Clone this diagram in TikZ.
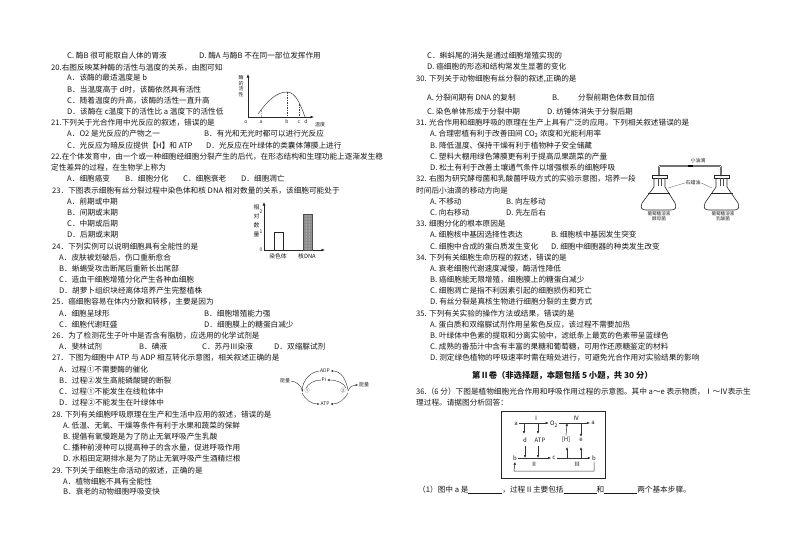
\documentclass[tikz,border=0pt]{standalone}
\usepackage{fontspec}
\setmainfont{Noto Sans CJK SC}
\usetikzlibrary{arrows.meta,patterns}
\newcommand{\TL}[3]{\node[txt] (t#1-#2) at (#1,#2) {#3};}
\newcommand{\SL}[3]{\node[lab] (#1) at #2 {#3};}
\tikzset{
  txt/.style={anchor=west,inner sep=0pt,font=\fontsize{7.65}{8}\selectfont,text height=6pt,text depth=1.6pt,text=black!90},
  lab/.style={inner sep=0.6pt,font=\fontsize{5}{5.5}\selectfont,text=black!85},
  dlab/.style={inner sep=1.2pt,font=\fontsize{6}{6.5}\selectfont,text=black!90},
  ax/.style={line width=0.7pt,black!85,-{Latex[length=3.5pt,width=3pt]}},
  thinarr/.style={line width=0.5pt,black!80,-{Latex[length=3pt,width=2.6pt]}},
  cyc/.style={line width=0.45pt,black!75},
  flask/.style={line width=0.6pt,black!85},
  dline/.style={line width=0.45pt,dashed,dash pattern=on 1.5pt off 1pt,black!75},
}
\begin{document}
\begin{tikzpicture}[x=1pt,y=-1pt]
\useasboundingbox[fill=white] (0,0) rectangle (794,549);
% left column
\TL{67}{56}{C. 酶B 很可能取自人体的胃液}
\TL{199}{56}{D. 酶A 与酶B 不在同一部位发挥作用}
\TL{51}{68}{20.右图反映某种酶的活性与温度的关系，由图可知}
\TL{67}{78}{A．该酶的最适温度是 b}
\TL{67}{90}{B．当温度高于 d时，该酶依然具有活性}
\TL{67}{101}{C．随着温度的升高，该酶的活性一直升高}
\TL{67}{112}{D．该酶在 c温度下的活性比 a 温度下的活性低}
\TL{51}{123}{21.下列关于光合作用中光反应的叙述，错误的是}
\TL{67}{134}{A．O2 是光反应的产物之一}
\TL{204}{134}{B．有光和无光时都可以进行光反应}
\TL{67}{146}{C．光反应为暗反应提供【H】和 ATP}
\TL{206}{146}{D．光反应在叶绿体的类囊体薄膜上进行}
\TL{51}{157}{22.在个体发育中，由一个或一种细胞经细胞分裂产生的后代，在形态结构和生理功能上逐渐发生稳}
\TL{51}{168}{定性差异的过程，在生物学上称为}
\TL{67}{179}{A．细胞癌变}
\TL{125}{179}{B．细胞分化}
\TL{183}{179}{C．细胞衰老}
\TL{241}{179}{D．细胞凋亡}
\TL{52}{191}{23．下图表示细胞有丝分裂过程中染色体和核 DNA 相对数量的关系，该细胞可能处于}
\TL{67}{202}{A．前期或中期}
\TL{67}{213}{B．间期或末期}
\TL{67}{224}{C．中期或后期}
\TL{67}{235}{D．后期或末期}
\TL{52}{247}{24．下列实例可以说明细胞具有全能性的是}
\TL{59}{258}{A．皮肤被划破后，伤口重新愈合}
\TL{59}{269}{B．蜥蜴受攻击断尾后重新长出尾部}
\TL{59}{280}{C．造血干细胞增殖分化产生各种血细胞}
\TL{59}{291}{D．胡萝卜组织块经离体培养产生完整植株}
\TL{52}{302}{25．癌细胞容易在体内分散和转移，主要是因为}
\TL{59}{314}{A．细胞呈球形}
\TL{204}{314}{B．细胞增殖能力强}
\TL{59}{325}{C．细胞代谢旺盛}
\TL{204}{325}{D．细胞膜上的糖蛋白减少}
\TL{52}{336}{26．为了检测花生子叶中是否含有脂肪，应选用的化学试剂是}
\TL{59}{347}{A．斐林试剂}
\TL{139}{347}{B．碘液}
\TL{202}{347}{C．苏丹Ⅲ染液}
\TL{274}{347}{D．双缩脲试剂}
\TL{52}{358}{27．下图为细胞中 ATP 与 ADP 相互转化示意图，相关叙述正确的是}
\TL{59}{370}{A．过程①不需要酶的催化}
\TL{59}{381}{B．过程②发生高能磷酸键的断裂}
\TL{59}{392}{C．过程①不能发生在线粒体中}
\TL{59}{403}{D．过程②不能发生在叶绿体中}
\TL{52}{415}{28. 下列有关细胞呼吸原理在生产和生活中应用的叙述，错误的是}
\TL{63}{426}{A. 低温、无氧、干燥等条件有利于水果和蔬菜的保鲜}
\TL{63}{437}{B. 提倡有氧慢跑是为了防止无氧呼吸产生乳酸}
\TL{63}{448}{C. 播种前浸种可以提高种子的含水量，促进呼吸作用}
\TL{63}{459}{D. 水稻田定期排水是为了防止无氧呼吸产生酒精烂根}
\TL{52}{471}{29. 下列关于细胞生命活动的叙述，正确的是}
\TL{63}{482}{A．植物细胞不具有全能性}
\TL{63}{492}{B．衰老的动物细胞呼吸变快}
% right column
\TL{427}{56}{C．蝌蚪尾的消失是通过细胞增殖实现的}
\TL{427}{67}{D. 癌细胞的形态和结构常发生显著的变化}
\TL{416}{79}{30. 下列关于动物细胞有丝分裂的叙述,正确的是}
\TL{427}{98}{A. 分裂间期有 DNA 的复制}
\TL{552}{98}{B.}
\TL{578}{98}{分裂前期色体数目加倍}
\TL{427}{112}{C. 染色单体形成于分裂中期}
\TL{547}{112}{D. 纺锤体消失于分裂后期}
\TL{416}{123}{31. 光合作用和细胞呼吸的原理在生产上具有广泛的应用。下列相关叙述错误的是}
\TL{430}{134}{A. 合理密植有利于改善田间 CO\textsubscript{2} 浓度和光能利用率}
\TL{430}{146}{B. 降低温度、保持干燥有利于植物种子安全储藏}
\TL{430}{157}{C. 塑料大棚用绿色薄膜更有利于提高瓜果蔬菜的产量}
\TL{430}{168}{D. 松土有利于改善土壤通气条件以增强根系的细胞呼吸}
\TL{416}{179}{32. 右图为研究酵母菌和乳酸菌呼吸方式的实验示意图，培养一段}
\TL{416}{191}{时间后小油滴的移动方向是}
\TL{430}{202}{A. 不移动}
\TL{506}{202}{B. 向左移动}
\TL{430}{213}{C. 向右移动}
\TL{506}{213}{D. 先左后右}
\TL{416}{224}{33. 细胞分化的根本原因是}
\TL{430}{235}{A. 细胞核中基因选择性表达}
\TL{551}{235}{B. 细胞核中基因发生突变}
\TL{430}{247}{C. 细胞中合成的蛋白质发生变化}
\TL{551}{247}{D. 细胞中细胞器的种类发生改变}
\TL{416}{258}{34. 下列有关细胞生命历程的叙述，错误的是}
\TL{430}{269}{A. 衰老细胞代谢速度减慢，酶活性降低}
\TL{430}{280}{B. 癌细胞能无限增殖，细胞膜上的糖蛋白减少}
\TL{430}{291}{C. 细胞凋亡是指不利因素引起的细胞损伤和死亡}
\TL{430}{302}{D. 有丝分裂是真核生物进行细胞分裂的主要方式}
\TL{416}{314}{35. 下列有关实验的操作方法或结果，错误的是}
\TL{430}{325}{A. 蛋白质和双缩脲试剂作用呈紫色反应，该过程不需要加热}
\TL{430}{336}{B. 叶绿体中色素的提取和分离实验中，滤纸条上最宽的色素带呈蓝绿色}
\TL{430}{347}{C. 成熟的番茄汁中含有丰富的果糖和葡萄糖，可用作还原糖鉴定的材料}
\TL{430}{358}{D. 测定绿色植物的呼吸速率时需在暗处进行，可避免光合作用对实验结果的影响}
\node[txt,font=\bfseries\fontsize{8.3}{9}\selectfont] (title) at (472,376) {第Ⅱ卷（非选择题，本题包括 5 小题，共 30 分）};
\TL{416}{392}{36.（6 分）下图是植物细胞光合作用和呼吸作用过程的示意图。其中 a～e 表示物质，Ⅰ～Ⅳ表示生}
\TL{416}{403}{理过程。请据图分析回答：}
\TL{418}{490}{（1）图中 a 是\rule[-0.8pt]{34pt}{0.4pt}，过程Ⅱ主要包括\rule[-0.8pt]{33pt}{0.4pt}和\rule[-0.8pt]{33pt}{0.4pt}两个基本步骤。}

% enzyme graph
\coordinate (eO) at (248,117);
\coordinate (eY) at (248,74);
\coordinate (eX) at (314,117);
\draw[ax] (eO) -- (eY);
\draw[ax] (eO) -- (eX);
\node[lab,align=center,font=\fontsize{5}{5.6}\selectfont] (ey) at (241,86) {酶\\的\\活\\性};
\SL{eo}{(246,122)}{o}
\SL{ea}{(261,122)}{a}
\SL{eb}{(287,122)}{b}
\SL{ec}{(299,122)}{c}
\SL{ed}{(306,122)}{d}
\SL{et}{(320,125)}{温度}
\coordinate (c0) at (258,114);
\coordinate (cb) at (287,92);
\coordinate (cc) at (299,104);
\coordinate (c1) at (305,117);
\draw[line width=0.6pt,black!65] (c0) .. controls (268,100) and (277,92) .. (cb) .. controls (296,92) and (301,106) .. (c1);
\draw[dline] (cb) -- (287,117);
\draw[dline] (cc) -- (299,117);
\draw[dline,black!35] (261,110) -- (261,117);

% bar chart
\coordinate (bO) at (264,250);
\coordinate (bY) at (264,202);
\coordinate (bX) at (325,250);
\draw[ax] (bO) -- (bY);
\draw[ax] (bO) -- (bX);
\node[dlab,align=center,font=\fontsize{5.8}{9}\selectfont,inner sep=0pt] (by) at (256.5,220.5) {相\\对\\数\\量};
\SL{b2}{(261,212)}{2}
\SL{b1}{(261,232)}{1}
\SL{b0}{(261,250)}{0}
\draw[line width=0.6pt,black!85,fill=white] (274,250) rectangle (283,232);
\path[fill=black!45] (303,250) rectangle (312,214);
\path[pattern=dots,pattern color=white] (303,250) rectangle (312,214);
\draw[line width=0.5pt,black!70] (303,250) rectangle (312,214);
\node[dlab,font=\fontsize{5.8}{6.5}\selectfont] (bl1) at (278,256) {染色体};
\node[dlab,font=\fontsize{5.8}{6.5}\selectfont] (bl2) at (307,256) {核DNA};

% ATP cycle
\SL{en1}{(285,381)}{能量}
\SL{en2}{(364,385)}{能量}
\SL{p1}{(307,391)}{①}
\SL{p2}{(343,391)}{②}
\SL{adp}{(325,371)}{ADP}
\SL{pi}{(324,380)}{Pi}
\SL{atp}{(325,404)}{ATP}
\draw[cyc,-{Latex[length=2.5pt,width=2.2pt]}] (en1.east) .. controls (296,381) and (301,386) .. (303,392);
\draw[cyc,-{Latex[length=2.5pt,width=2.2pt]}] (348,391) .. controls (350,386) and (353,385) .. (en2.west);
\draw[cyc] (302,390) .. controls (303,380) and (310,372) .. (adp.west);
\draw[cyc,-{Latex[length=2.5pt,width=2.2pt]}] (348,390) .. controls (346,379) and (341,371) .. (adp.east);
\draw[cyc] (306,388) .. controls (308,384) and (314,380) .. (pi.west);
\draw[cyc,-{Latex[length=2.5pt,width=2.2pt]}] (346,388) .. controls (344,383) and (337,380) .. (pi.east);
\draw[cyc,-{Latex[length=2.5pt,width=2.2pt]}] (302,393) .. controls (305,399) and (311,404) .. (atp.west);
\draw[cyc,-{Latex[length=2.5pt,width=2.2pt]}] (348,393) .. controls (345,399) and (339,404) .. (atp.east);

% flasks
\coordinate (tl) at (659,176);
\coordinate (tr) at (721,176);
\draw[line width=1.6pt,black!85,rounded corners=1pt] (tl) -- (659,166) -- (721,166) -- (tr);
\draw[line width=0.9pt,white,rounded corners=1pt] (tl) -- (659,166) -- (721,166) -- (tr);
\node[fill=black,minimum width=5pt,minimum height=2pt,inner sep=0pt] (drop) at (690,166) {};
\SL{oil}{(698,161)}{小油滴}
\SL{wax}{(693,183)}{石蜡油}
% left flask
\draw[flask] (652,175) rectangle (667,178);
\draw[flask] (654,178) -- (654,187) -- (642,203) .. controls (640,208) and (642,210) .. (646,210) -- (671,210) .. controls (675,210) and (677,208) .. (675,203) -- (665,187) -- (665,178);
\draw[flask] (648,193) -- (670,193);
\draw[line width=0.4pt,black!70] (658,178) -- (658,186) (661,178) -- (661,186);
% right flask
\draw[flask] (714,175) rectangle (729,178);
\draw[flask] (716,178) -- (716,187) -- (705,203) .. controls (703,208) and (705,210) .. (709,210) -- (734,210) .. controls (738,210) and (740,208) .. (738,203) -- (727,187) -- (727,178);
\draw[flask] (711,193) -- (733,193);
\draw[line width=0.4pt,black!70] (720,178) -- (720,186) (723,178) -- (723,186);
\draw[line width=0.35pt,black!60] (wax.west) -- (668,188);
\draw[line width=0.35pt,black!60] (wax.east) -- (712,188);
\node[lab,align=center,font=\fontsize{4.6}{5.2}\selectfont] (fl) at (659,216.5) {葡萄糖溶液\\酵母菌};
\node[lab,align=center,font=\fontsize{4.6}{5.2}\selectfont] (fr) at (723,216.5) {葡萄糖溶液\\乳酸菌};

% photosynthesis box
\draw[line width=0.8pt,black!85] (501,411) rectangle (605,478);
\node[dlab] (a1) at (516,424) {a};
\node[dlab] (o2) at (554,424) {O\textsubscript{2}};
\node[dlab] (a2) at (593,423) {a};
\node[dlab] (p-I) at (536,418) {Ⅰ};
\node[dlab] (p-IV) at (576,418) {Ⅳ};
\node[dlab] (d) at (525,440) {d};
\node[dlab] (atpb) at (540,440) {ATP};
\node[dlab] (h) at (566,440) {[H]};
\node[dlab] (e) at (581,440) {e};
\node[dlab] (b1) at (515,458) {b};
\node[dlab] (c) at (554,458) {c};
\node[dlab] (b2) at (594,458) {b};
\node[dlab] (p-II) at (534,464) {Ⅱ};
\node[dlab] (p-III) at (577,464) {Ⅲ};
\draw[thinarr] (a1.east |- 0,423) -- (o2.west |- 0,423);
\draw[thinarr] (o2.east |- 0,423) -- (a2.west |- 0,423);
\draw[thinarr] (b1.east) -- (c.west);
\draw[thinarr] (c.east) -- (b2.west);
\coordinate (j1) at (524,423);
\coordinate (j2) at (538,423);
\coordinate (j3) at (567,423);
\coordinate (j4) at (581,423);
\coordinate (k1) at (525,458);
\coordinate (k2) at (538,458);
\coordinate (k3) at (567,458);
\coordinate (k4) at (581,458);
\draw[thinarr] (j1) -- (524,434);
\draw[thinarr] (j2) -- (538,434);
\draw[thinarr] (525,446) -- (k1);
\draw[thinarr] (538,446) -- (k2);
\draw[thinarr] (h.north) -- (j3);
\draw[thinarr] (j4) -- (e.north);
\draw[thinarr] (k3) -- (567,447);
\draw[thinarr] (k4) -- (581,447);
\draw[thinarr] (b2.south) -- (594,471) -- (514,471) -- (b1.south);
\end{tikzpicture}
\end{document}
